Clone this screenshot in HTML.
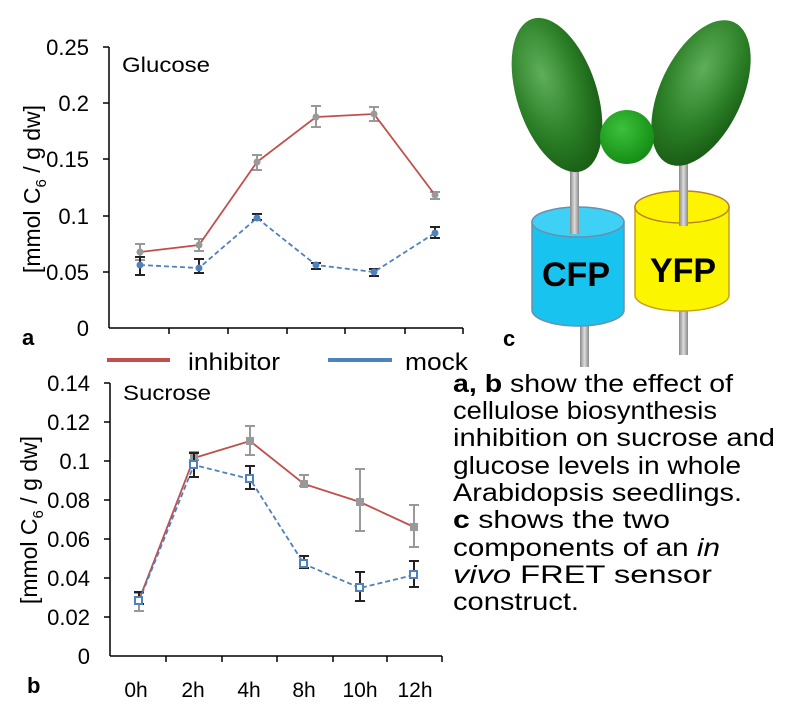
<!DOCTYPE html>
<html><head><meta charset="utf-8"><style>
html,body{margin:0;padding:0;background:#fff;}
svg{display:block;font-family:"Liberation Sans",Arial,sans-serif;}
</style></head><body>
<svg width="800" height="716" viewBox="0 0 800 716">
<defs>
<radialGradient id="g1" cx="0.4" cy="0.35" r="0.7"><stop offset="0" stop-color="#5fae5a"/><stop offset="0.6" stop-color="#2a7e25"/><stop offset="1" stop-color="#185a14"/></radialGradient>
<radialGradient id="g2" cx="0.4" cy="0.35" r="0.7"><stop offset="0" stop-color="#3cc23c"/><stop offset="1" stop-color="#128a12"/></radialGradient>
<linearGradient id="st" x1="0" x2="1"><stop offset="0" stop-color="#888"/><stop offset="0.5" stop-color="#ddd"/><stop offset="1" stop-color="#888"/></linearGradient>
</defs>
<!-- Chart a -->
<g stroke="#000" stroke-width="1.5" fill="none">
<line x1="109" y1="47" x2="109" y2="328"/><line x1="109" y1="328" x2="463" y2="328"/>
<line x1="103" y1="47" x2="109" y2="47"/><line x1="103" y1="103" x2="109" y2="103"/><line x1="103" y1="159" x2="109" y2="159"/><line x1="103" y1="216" x2="109" y2="216"/><line x1="103" y1="272" x2="109" y2="272"/>
<line x1="169" y1="328" x2="169" y2="334"/><line x1="228" y1="328" x2="228" y2="334"/><line x1="287" y1="328" x2="287" y2="334"/><line x1="345" y1="328" x2="345" y2="334"/><line x1="405" y1="328" x2="405" y2="334"/><line x1="463" y1="328" x2="463" y2="334"/>
</g>
<g font-size="22" text-anchor="end" fill="#000">
<text x="89" y="55">0.25</text><text x="89" y="111">0.2</text><text x="89" y="167">0.15</text><text x="89" y="224">0.1</text><text x="89" y="280">0.05</text><text x="89" y="336">0</text>
</g>
<text x="122" y="72" font-size="21" textLength="88" lengthAdjust="spacingAndGlyphs">Glucose</text>
<text x="22" y="345" font-size="22" font-weight="bold">a</text>
<text transform="translate(40,189) rotate(-90)" font-size="23" text-anchor="middle">[mmol C<tspan font-size="15" dy="6">6</tspan><tspan dy="-6"> / g dw]</tspan></text>
<g stroke="#999" stroke-width="2">
<path d="M140 244v16M135 244h10M135 260h10 M199 239v12M194 239h10M194 251h10 M257 155v15M252 155h10M252 170h10 M316 106v21M311 106h10M311 127h10 M374 107v14M369 107h10M369 121h10 M435 192v7M430 192h10M430 199h10"/>
</g>
<polyline points="140,252 199,245 257,162 316,117 374,114 435,195" fill="none" stroke="#c0504d" stroke-width="1.8"/>
<g fill="#999"><circle cx="140" cy="252" r="3.5"/><circle cx="199" cy="245" r="3.5"/><circle cx="257" cy="162" r="3.5"/><circle cx="316" cy="117" r="3.5"/><circle cx="374" cy="114" r="3.5"/><circle cx="435" cy="195" r="3.5"/></g>
<g stroke="#222" stroke-width="2">
<path d="M140 257v18M135 257h10M135 275h10 M199 259v14M194 259h10M194 273h10 M257 214v6M252 214h10M252 220h10 M316 263v6M311 263h10M311 269h10 M374 269v7M369 269h10M369 276h10 M435 227v11M430 227h10M430 238h10"/>
</g>
<polyline points="140,265 199,268 257,218 316,265 374,272 435,233" fill="none" stroke="#4f81bd" stroke-width="1.8" stroke-dasharray="5,3"/>
<g fill="#4f81bd"><circle cx="140" cy="265" r="3.5"/><circle cx="199" cy="268" r="3.5"/><circle cx="257" cy="218" r="3.5"/><circle cx="316" cy="265" r="3.5"/><circle cx="374" cy="272" r="3.5"/><circle cx="435" cy="233" r="3.5"/></g>
<!-- legend -->
<line x1="107" y1="360" x2="170" y2="360" stroke="#c0504d" stroke-width="4"/>
<text x="188" y="370" font-size="24" textLength="92" lengthAdjust="spacingAndGlyphs">inhibitor</text>
<line x1="328" y1="360" x2="392" y2="360" stroke="#4f81bd" stroke-width="4"/>
<text x="405" y="370" font-size="24" textLength="63" lengthAdjust="spacingAndGlyphs">mock</text>
<!-- Chart b -->
<g stroke="#000" stroke-width="1.5" fill="none">
<line x1="110" y1="383" x2="110" y2="656"/><line x1="110" y1="656" x2="442" y2="656"/>
<line x1="104" y1="383" x2="110" y2="383"/><line x1="104" y1="422" x2="110" y2="422"/><line x1="104" y1="461" x2="110" y2="461"/><line x1="104" y1="500" x2="110" y2="500"/><line x1="104" y1="539" x2="110" y2="539"/><line x1="104" y1="578" x2="110" y2="578"/><line x1="104" y1="617" x2="110" y2="617"/>
<line x1="166" y1="656" x2="166" y2="662"/><line x1="222" y1="656" x2="222" y2="662"/><line x1="277" y1="656" x2="277" y2="662"/><line x1="333" y1="656" x2="333" y2="662"/><line x1="387" y1="656" x2="387" y2="662"/><line x1="442" y1="656" x2="442" y2="662"/>
</g>
<g font-size="22" text-anchor="end">
<text x="90" y="391">0.14</text><text x="90" y="430">0.12</text><text x="90" y="469">0.1</text><text x="90" y="508">0.08</text><text x="90" y="547">0.06</text><text x="90" y="586">0.04</text><text x="90" y="625">0.02</text><text x="90" y="664">0</text>
</g>
<g font-size="21" text-anchor="middle">
<text x="136" y="697">0h</text><text x="193" y="697">2h</text><text x="249" y="697">4h</text><text x="304" y="697">8h</text><text x="360" y="697">10h</text><text x="415" y="697">12h</text>
</g>
<text x="123" y="400" font-size="21" textLength="88" lengthAdjust="spacingAndGlyphs">Sucrose</text>
<text x="27" y="693" font-size="22" font-weight="bold">b</text>
<text transform="translate(37,520) rotate(-90)" font-size="23" text-anchor="middle">[mmol C<tspan font-size="15" dy="6">6</tspan><tspan dy="-6"> / g dw]</tspan></text>
<g stroke="#999" stroke-width="2">
<path d="M139 593v18M134 593h10M134 611h10 M194 452v8M189 452h10M189 460h10 M250 426v29M245 426h10M245 455h10 M304 475v11M299 475h10M299 486h10 M360 469v62M355 469h10M355 531h10 M414 505v42M409 505h10M409 547h10"/>
</g>
<polyline points="139,600 194,458 250,441 304,484 360,502 414,527" fill="none" stroke="#c0504d" stroke-width="1.8"/>
<g fill="#999"><rect x="135" y="596" width="8" height="8"/><rect x="190" y="454" width="8" height="8"/><rect x="246" y="437" width="8" height="8"/><rect x="300" y="480" width="8" height="8"/><rect x="356" y="498" width="8" height="8"/><rect x="410" y="523" width="8" height="8"/></g>
<g stroke="#222" stroke-width="2">
<path d="M139 592v12M134 592h10M134 604h10 M194 453v24M189 453h10M189 477h10 M250 466v23M245 466h10M245 489h10 M304 556v12M299 556h10M299 568h10 M360 572v29M355 572h10M355 601h10 M414 561v26M409 561h10M409 587h10"/>
</g>
<polyline points="139,601 194,465 250,479 304,564 360,588 414,575" fill="none" stroke="#4f81bd" stroke-width="1.8" stroke-dasharray="5,3"/>
<g fill="#fff" stroke="#4f81bd" stroke-width="2"><rect x="135" y="597" width="7" height="7"/><rect x="190" y="461" width="7" height="7"/><rect x="246" y="475" width="7" height="7"/><rect x="300" y="560" width="7" height="7"/><rect x="356" y="584" width="7" height="7"/><rect x="410" y="571" width="7" height="7"/></g>
<!-- text block -->
<g font-size="25">
<text x="453" y="392" textLength="280" lengthAdjust="spacingAndGlyphs"><tspan font-weight="bold">a, b</tspan> show the effect of</text>
<text x="453" y="419" textLength="264" lengthAdjust="spacingAndGlyphs">cellulose biosynthesis</text>
<text x="453" y="446" textLength="322" lengthAdjust="spacingAndGlyphs">inhibition on sucrose and</text>
<text x="453" y="474" textLength="288" lengthAdjust="spacingAndGlyphs">glucose levels in whole</text>
<text x="453" y="501" textLength="289" lengthAdjust="spacingAndGlyphs">Arabidopsis seedlings.</text>
<text x="453" y="528" textLength="217" lengthAdjust="spacingAndGlyphs"><tspan font-weight="bold">c</tspan> shows the two</text>
<text x="453" y="556" textLength="267" lengthAdjust="spacingAndGlyphs">components of an <tspan font-style="italic">in</tspan></text>
<text x="453" y="583" textLength="259" lengthAdjust="spacingAndGlyphs"><tspan font-style="italic">vivo</tspan> FRET sensor</text>
<text x="453" y="610" textLength="126" lengthAdjust="spacingAndGlyphs">construct.</text>
</g>
<!-- diagram -->
<rect x="580" y="325" width="9" height="42" fill="url(#st)"/>
<rect x="679" y="310" width="9" height="45" fill="url(#st)"/>
<path d="M532 222 V310 A46 16 0 0 0 624 310 V222 Z" fill="#19c3ef" stroke="#6a8fb0" stroke-width="1.5"/>
<ellipse cx="578" cy="222" rx="46" ry="15" fill="#3fd0f5" stroke="#6a8fb0" stroke-width="1.5"/>
<path d="M635 207 V295 A47 16 0 0 0 729 295 V207 Z" fill="#fbf500" stroke="#c8a020" stroke-width="1.5"/>
<ellipse cx="682" cy="207" rx="47" ry="16" fill="#fff400" stroke="#b8822a" stroke-width="1.5"/>
<rect x="570" y="168" width="9" height="66" fill="url(#st)"/>
<rect x="679" y="162" width="9" height="64" fill="url(#st)"/>
<ellipse cx="557" cy="95" rx="40" ry="80" transform="rotate(-18 557 95)" fill="url(#g1)"/>
<ellipse cx="701" cy="93" rx="41" ry="78" transform="rotate(25 701 93)" fill="url(#g1)"/>
<circle cx="627" cy="137" r="27" fill="url(#g2)"/>
<text x="576" y="286" font-size="34" font-weight="bold" text-anchor="middle">CFP</text>
<text x="683" y="282" font-size="34" font-weight="bold" text-anchor="middle">YFP</text>
<text x="503" y="346" font-size="22" font-weight="bold">c</text>
</svg>
</body></html>
